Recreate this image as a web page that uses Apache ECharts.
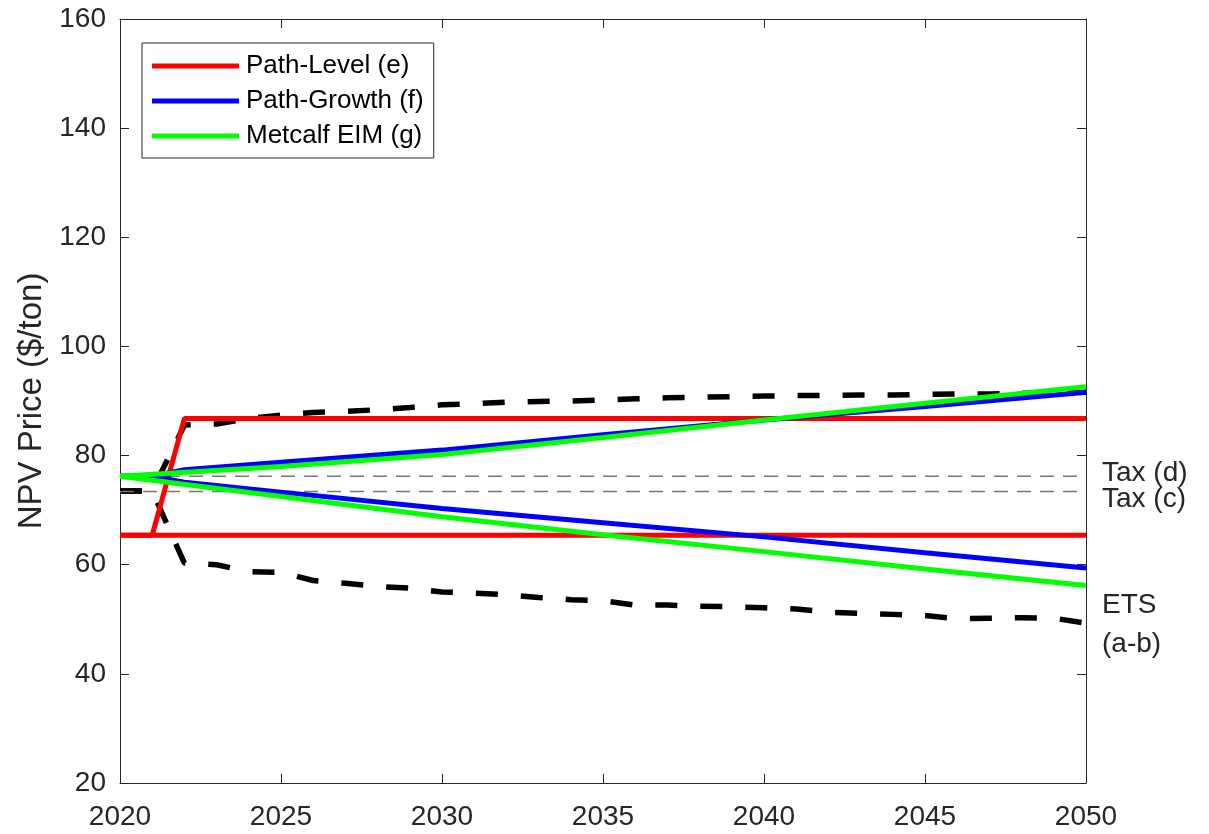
<!DOCTYPE html>
<html>
<head>
<meta charset="utf-8">
<script src="https://cdn.jsdelivr.net/npm/echarts@6/dist/echarts.min.js"></script>
<style>
  html, body { margin: 0; padding: 0; background: #fff; }
  #chart { width: 1209px; height: 834px; }
</style>
</head>
<body>
<div id="chart"></div>
<script>
// ---- Data ----
const xTicks = [2020, 2025, 2030, 2035, 2040, 2045, 2050];
const yTicks = [20, 40, 60, 80, 100, 120, 140, 160];

const etsYears = [2020, 2021, 2022, 2023, 2024, 2025, 2026, 2027, 2028, 2029, 2030,
                  2031, 2032, 2033, 2034, 2035, 2036, 2037, 2038, 2039, 2040,
                  2041, 2042, 2043, 2044, 2045, 2046, 2047, 2048, 2049, 2050];
const etsHigh = [73.5, 73.5, 85.6, 85.8, 86.8, 87.4, 87.9, 88.1, 88.4, 88.8, 89.3,
                 89.5, 89.8, 89.9, 90.0, 90.2, 90.4, 90.6, 90.7, 90.8, 90.9,
                 91.0, 91.0, 91.1, 91.1, 91.2, 91.3, 91.3, 91.4, 91.5, 91.6];
const etsLow  = [73.5, 73.5, 60.3, 60.0, 58.7, 58.6, 57.1, 56.6, 56.0, 55.7, 55.0,
                 54.8, 54.5, 54.0, 53.6, 53.4, 52.6, 52.6, 52.4, 52.3, 52.1,
                 51.9, 51.3, 51.1, 50.9, 50.7, 50.1, 50.2, 50.3, 50.2, 49.3];

const taxYears = [2020, 2050];
const taxD = [76.2, 76.2];
const taxC = [73.4, 73.4];

const levelHighYears = [2020, 2021, 2022, 2050];
const levelHigh = [65.4, 65.4, 86.8, 86.8];
const levelLowYears = [2020, 2050];
const levelLow = [65.4, 65.4];

const growthYears = [2020, 2021, 2022, 2025, 2030, 2035, 2040, 2045, 2050];
const growthHigh = [76.2, 76.2, 77.4, 78.8, 81.0, 83.8, 86.5, 89.0, 91.6];
const growthLow  = [76.2, 76.2, 75.1, 73.3, 70.3, 67.7, 65.1, 62.2, 59.4];

const eimYears = [2020, 2025, 2030, 2035, 2040, 2045, 2050];
const eimHigh = [76.2, 78.0, 80.2, 83.3, 86.5, 89.6, 92.6];
const eimLow  = [76.2, 72.5, 68.8, 65.5, 62.4, 59.2, 56.2];

const names = { level: 'Path-Level (e)', growth: 'Path-Growth (f)', eim: 'Metcalf EIM (g)' };

// ---- helpers ----
const pairs = (xs, ys) => xs.map((x, i) => [x, ys[i]]);
const FONT = '"Liberation Sans", Arial, Helvetica, sans-serif';
const AX = '#262626';

function lineSeries(name, xs, ys, color, width, dash, z, extra) {
  return Object.assign({
    name: name,
    type: 'line',
    data: pairs(xs, ys),
    symbol: 'none',
    showSymbol: false,
    smooth: false,
    z: z,
    lineStyle: { color: color, width: width, type: dash || 'solid', cap: 'butt' },
    itemStyle: { color: color },
    emphasis: { disabled: true },
    animation: false
  }, extra || {});
}

const endLbl = (text, offY, extra) => ({
  endLabel: Object.assign({
    show: true,
    formatter: text,
    distance: 16,
    offset: [0, offY],
    fontSize: 28,
    fontFamily: FONT,
    color: AX,
    align: 'left',
    verticalAlign: 'middle'
  }, extra || {})
});

const tickAxisCommon = {
  axisLine: { show: true, lineStyle: { color: AX, width: 1 } },
  axisTick: { show: true, inside: true, length: 9, lineStyle: { color: AX, width: 1 } },
  splitLine: { show: false }
};

const chart = echarts.init(document.getElementById('chart'), null, { renderer: 'canvas' });

chart.setOption({
  animation: false,
  backgroundColor: '#fff',
  grid: { left: 120, right: 123, top: 19, bottom: 51, containLabel: false },
  legend: {
    show: true,
    data: [names.level, names.growth, names.eim],
    orient: 'vertical',
    left: 142,
    top: 43,
    icon: 'rect',
    itemWidth: 87,
    itemHeight: 5,
    itemGap: 7,
    padding: [9, 10, 8, 10],
    borderColor: AX,
    borderWidth: 1,
    backgroundColor: '#fff',
    selectedMode: false,
    textStyle: { fontSize: 26, fontFamily: FONT, color: '#000', lineHeight: 28, padding: [0, 0, 0, 2] }
  },
  xAxis: [
    Object.assign({
      type: 'value', min: xTicks[0], max: xTicks[xTicks.length - 1], interval: 5, position: 'bottom',
      axisLabel: { show: true, fontSize: 28, fontFamily: FONT, color: AX, margin: 20, formatter: v => String(v) }
    }, tickAxisCommon),
    Object.assign({
      type: 'value', min: xTicks[0], max: xTicks[xTicks.length - 1], interval: 5, position: 'top',
      axisLabel: { show: false }
    }, tickAxisCommon)
  ],
  yAxis: [
    Object.assign({
      type: 'value', min: yTicks[0], max: yTicks[yTicks.length - 1], interval: 20, position: 'left',
      name: 'NPV Price ($/ton)', nameLocation: 'middle', nameGap: 71,
      nameTextStyle: { fontSize: 33, fontFamily: FONT, color: AX },
      axisLabel: { show: true, fontSize: 28, fontFamily: FONT, color: AX, margin: 14, formatter: v => String(v) }
    }, tickAxisCommon),
    Object.assign({
      type: 'value', min: yTicks[0], max: yTicks[yTicks.length - 1], interval: 20, position: 'right',
      axisLabel: { show: false }
    }, tickAxisCommon)
  ],
  series: [
    lineSeries('ETS high', etsYears, etsHigh, '#000', 5.5, [22, 23], 2),
    lineSeries('ETS low', etsYears, etsLow, '#000', 5.5, [22, 23], 2,
      endLbl('ETS\n(a-b)', 2, { lineHeight: 39 })),
    lineSeries('Tax (d)', taxYears, taxD, '#777', 1.5, [14, 9], 3, endLbl('Tax (d)', -3)),
    lineSeries('Tax (c)', taxYears, taxC, '#777', 1.5, [14, 9], 3, endLbl('Tax (c)', 8)),
    lineSeries(names.level, levelHighYears, levelHigh, '#ff0000', 5, 'solid', 4),
    lineSeries(names.level, levelLowYears, levelLow, '#ff0000', 5, 'solid', 4),
    lineSeries(names.growth, growthYears, growthHigh, '#0000ff', 5, 'solid', 5),
    lineSeries(names.growth, growthYears, growthLow, '#0000ff', 5, 'solid', 5),
    lineSeries(names.eim, eimYears, eimHigh, '#00ff00', 5, 'solid', 6),
    lineSeries(names.eim, eimYears, eimLow, '#00ff00', 5, 'solid', 6)
  ]
});
</script>
</body>
</html>
